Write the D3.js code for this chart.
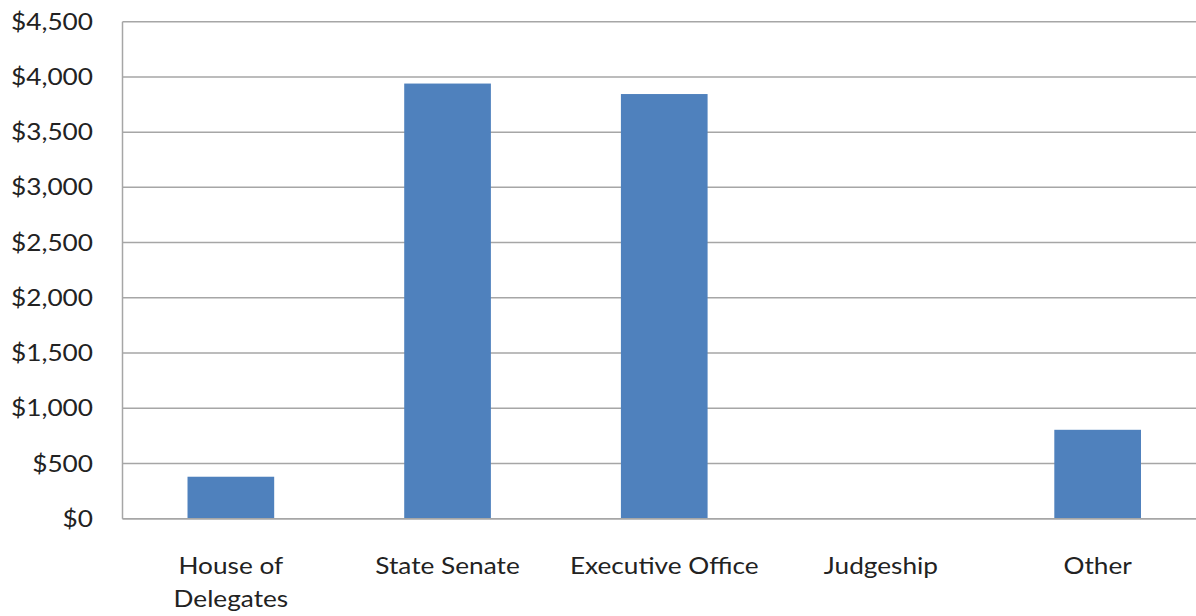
<!DOCTYPE html>
<html>
<head>
<meta charset="utf-8">
<script src="https://cdn.jsdelivr.net/npm/d3@7"></script>
<style>
  html, body { margin: 0; padding: 0; background: #fff; }
  svg { display: block; }
  text { font-family: Lato, "Open Sans", sans-serif; fill: #222; }
</style>
</head>
<body>
<svg id="chart" width="1196" height="616"></svg>
<script>
// Campaign contributions by office sought
const categories = ["House of Delegates", "State Senate", "Executive Office", "Judgeship", "Other"];
const categoryLines = [["House of", "Delegates"], ["State Senate"], ["Executive Office"], ["Judgeship"], ["Other"]];
const amounts = [380, 3940, 3845, 0, 805];
const yTicks = [0, 500, 1000, 1500, 2000, 2500, 3000, 3500, 4000, 4500];

const plot = { left: 122.5, right: 1206, top: 21.7, bottom: 518.7 };
const stretch = 1.14; // widen glyphs horizontally

const svg = d3.select("#chart");

const x = d3.scaleBand()
  .domain(categories)
  .range([plot.left, plot.right])
  .paddingInner(0.6)
  .paddingOuter(0.3);

const y = d3.scaleLinear()
  .domain([0, 4500])
  .range([plot.bottom, plot.top]);

const fmt = v => "$" + d3.format(",")(v);

// Horizontal gridlines
svg.append("g")
  .selectAll("line")
  .data(yTicks)
  .join("line")
  .attr("x1", plot.left)
  .attr("x2", plot.right)
  .attr("y1", d => y(d))
  .attr("y2", d => y(d))
  .attr("stroke", "#a6a6a6")
  .attr("stroke-width", 1.5);

// Bars
svg.append("g")
  .selectAll("rect")
  .data(categories.map((c, i) => ({ c, v: amounts[i] })))
  .join("rect")
  .attr("x", d => x(d.c))
  .attr("width", x.bandwidth())
  .attr("y", d => y(d.v))
  .attr("height", d => y(0) - y(d.v))
  .attr("fill", "#4f81bd");

// Y axis line and baseline
svg.append("line")
  .attr("x1", plot.left).attr("x2", plot.left)
  .attr("y1", plot.top).attr("y2", plot.bottom)
  .attr("stroke", "#a6a6a6").attr("stroke-width", 1.5);
svg.append("line")
  .attr("x1", plot.left).attr("x2", plot.right)
  .attr("y1", plot.bottom).attr("y2", plot.bottom)
  .attr("stroke", "#a6a6a6").attr("stroke-width", 1.5);

// Y tick labels
svg.append("g")
  .selectAll("text")
  .data(yTicks)
  .join("text")
  .attr("transform", d => `translate(93,${y(d)}) scale(${stretch},1)`)
  .attr("dy", "0.35em")
  .attr("text-anchor", "end")
  .style("font-size", "23px")
  .text(fmt);

// X category labels
const xl = svg.append("g")
  .selectAll("text")
  .data(categories)
  .join("text")
  .attr("text-anchor", "middle")
  .attr("transform", d => `translate(${x(d) + x.bandwidth() / 2},${plot.bottom + 55}) scale(${stretch},1)`)
  .style("font-size", "23px");
xl.selectAll("tspan")
  .data((d, i) => categoryLines[i])
  .join("tspan")
  .attr("x", 0)
  .attr("dy", (d, i) => i === 0 ? 0 : 33)
  .text(d => d);
</script>
</body>
</html>
